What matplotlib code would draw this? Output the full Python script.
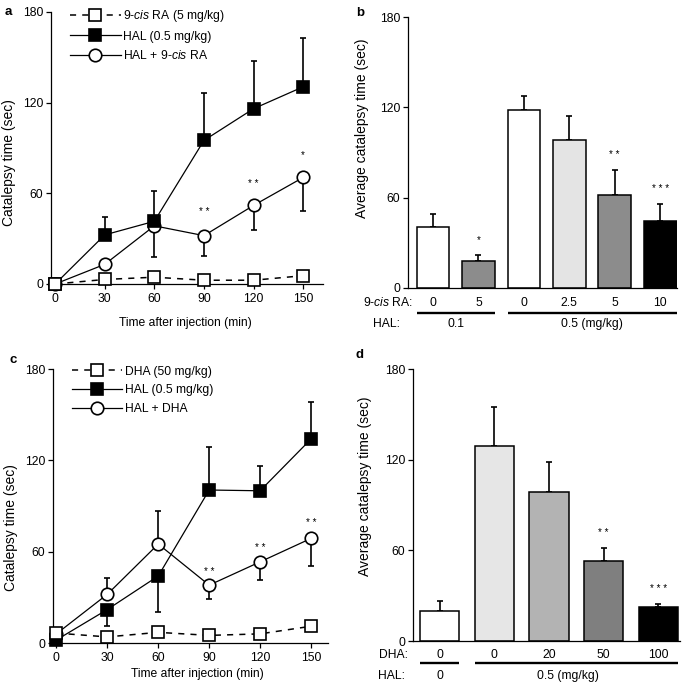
import matplotlib.pyplot as plt
import matplotlib.transforms as mtransforms
import numpy as np
from matplotlib.lines import Line2D

plt.rcParams['font.family'] = ['Liberation Sans', 'DejaVu Sans']
plt.rcParams['mathtext.fontset'] = 'custom'
plt.rcParams['mathtext.it'] = 'Liberation Sans:italic'
plt.rcParams['mathtext.rm'] = 'Liberation Sans'
plt.rcParams['font.size'] = 8.7

# ---- data ----
time_min = [0, 30, 60, 90, 120, 150]

# panel a
ra_only = [0, 3, 4.5, 2.5, 2.5, 5.5]
hal_a = [0, 32.5, 41.5, 95, 116, 130.5]
hal_a_hi = [0, 12, 20, 31.5, 31.5, 32]
hal_ra = [0, 13, 38.5, 32, 52, 70.5]
hal_ra_lo = [0, 0, 20.5, 13.5, 16.5, 22]
stars_a_x = [90, 120, 150]
stars_a_y = [47.5, 66.5, 85]
stars_a_txt = ['* *', '* *', '*']

# panel b
b_ra_doses = ['0', '5', '0', '2.5', '5', '10']
b_means = [40.5, 18, 118, 98, 62, 44.5]
b_err = [8.5, 3.7, 9.5, 16, 16.3, 11]
b_colors = ['white', '#8c8c8c', 'white', '#e4e4e4', '#8c8c8c', 'black']
b_stars = ['', '*', '', '', '* *', '* * *']
b_groups = [(0, 1, 0.5, '0.1'), (2, 5, 3.5, '0.5 (mg/kg)')]

# panel c
dha_only = [6.5, 4, 7, 5, 6, 11]
hal_c = [2, 22, 44, 100.5, 100, 134]
hal_c_lo = [0, 11, 23.5, 0, 0, 0]
hal_c_hi = [0, 0, 0, 28.5, 16.5, 24]
hal_dha = [6, 32, 65, 38, 53.3, 68.7]
hal_dha_lo = [0, 0, 0, 8.8, 11.6, 18]
hal_dha_hi = [0, 10.5, 21.7, 0, 0, 0]
stars_c_x = [90, 120, 150]
stars_c_y = [46.8, 62.6, 78.6]
stars_c_txt = ['* *', '* *', '* *']

# panel d
d_dha_doses = ['0', '0', '20', '50', '100']
d_means = [20, 129, 98.7, 52.8, 22.7]
d_err = [6.5, 25.6, 20, 8.6, 1.8]
d_colors = ['white', '#e6e6e6', '#b3b3b3', '#7f7f7f', 'black']
d_stars = ['', '', '', '* *', '* * *']
d_groups = [(0, 0, 0, '0'), (1, 4, 2.35, '0.5 (mg/kg)')]

W, H = 685, 683
fig = plt.figure(figsize=(W / 100, H / 100), dpi=100)


def px_axes(left, top, right, bottom):
    return fig.add_axes([left / W, 1 - bottom / H, (right - left) / W, (bottom - top) / H])


def style_axes(ax):
    for s in ['top', 'right']:
        ax.spines[s].set_visible(False)
    for s in ['left', 'bottom']:
        ax.spines[s].set_linewidth(0.9)
    ax.set_ylim(0, 180)
    ax.set_yticks([0, 60, 120, 180])
    ax.tick_params(axis='y', direction='out', length=3.5, width=0.9, pad=2)
    ax.tick_params(axis='x', direction='out', length=3.5, width=0.9, pad=3)


mk = dict(markersize=9, markeredgewidth=1.2, clip_on=False)


def line_panel(ax, open_vals, hal_vals, hal_lo, hal_hi, mix_vals, mix_lo, mix_hi,
               labels, legend_anchor, xlim):
    style_axes(ax)
    ax.errorbar(time_min, hal_vals, yerr=[hal_lo, hal_hi], fmt='none', ecolor='k',
                elinewidth=1.2, capsize=2.5, capthick=1.2, zorder=2, clip_on=False)
    ax.errorbar(time_min, mix_vals, yerr=[mix_lo, mix_hi], fmt='none', ecolor='k',
                elinewidth=1.2, capsize=2.5, capthick=1.2, zorder=2, clip_on=False)
    ax.plot(time_min, mix_vals, color='k', lw=0.9, marker='o', mfc='white', mec='k', zorder=3, **mk)
    ax.plot(time_min, hal_vals, color='k', lw=0.9, marker='s', mfc='black', mec='k', zorder=4, **mk)
    ax.plot(time_min, open_vals, color='k', lw=1.1, ls=(0, (4, 4)), marker='s', mfc='white',
            mec='k', zorder=5, **mk)
    ax.set_xlim(*xlim)
    ax.set_xticks(time_min)
    handles = [
        Line2D([0], [0], color='k', lw=1.1, ls=(0, (4, 4)), marker='s', mfc='white', mec='k',
               markersize=9, markeredgewidth=1.2),
        Line2D([0], [0], color='k', lw=0.9, marker='s', mfc='black', mec='k',
               markersize=9, markeredgewidth=1.2),
        Line2D([0], [0], color='k', lw=0.9, marker='o', mfc='white', mec='k',
               markersize=9, markeredgewidth=1.2),
    ]
    ax.legend(handles, labels, loc='upper left', bbox_to_anchor=legend_anchor, frameon=False,
              borderpad=0, borderaxespad=0, handlelength=4.2, handletextpad=0.2,
              labelspacing=0.55, fontsize=8.7)
    ax.set_ylabel('Catalepsy time (sec)', fontsize=10)
    ax.set_xlabel('Time after injection (min)')


def bar_panel(ax, means, err, colors, stars, doses, groups, row_lbl, xlim, star_off,
              rows_y, lbl_x):
    style_axes(ax)
    x = np.arange(len(means))
    w = 0.72
    ax.bar(x, means, width=w, color=colors, edgecolor='k', linewidth=1.1, zorder=2)
    ax.errorbar(x, means, yerr=[np.zeros(len(err)), err], fmt='none', ecolor='k',
                elinewidth=1.2, capsize=2.5, capthick=1.2, zorder=1)
    for xi, m, e, s in zip(x, means, err, stars):
        if s:
            ax.annotate(s, (xi, m + e), xytext=(0, star_off), textcoords='offset points',
                        ha='center', va='center', fontsize=7)
    ax.set_xlim(*xlim)
    ax.set_xticks([])
    tr = mtransforms.blended_transform_factory(ax.transData, ax.transAxes)
    for xi, d in zip(x, doses):
        ax.text(xi, rows_y[0], d, transform=tr, ha='center', va='center')
    for a, b, lx, lab in groups:
        ax.plot([a - w / 2, b + w / 2], [rows_y[1], rows_y[1]], color='k', lw=1.7,
                transform=tr, clip_on=False, solid_capstyle='butt')
        ax.text(lx, rows_y[2], lab, transform=tr, ha='center', va='center')
    ax.text(lbl_x[0], rows_y[0], row_lbl, transform=ax.transAxes, ha='right', va='center')
    ax.text(lbl_x[1], rows_y[2], 'HAL:', transform=ax.transAxes, ha='right', va='center')
    ax.set_ylabel('Average catalepsy time (sec)', fontsize=10)


# panel a
ax_a = px_axes(51, 12, 323, 284)
line_panel(ax_a, ra_only, hal_a, np.zeros(6), hal_a_hi, hal_ra, hal_ra_lo, np.zeros(6),
           ['9-$\\it{cis}$ RA (5 mg/kg)', 'HAL (0.5 mg/kg)', 'HAL + 9-$\\it{cis}$ RA'],
           (0.07, 1.015), (-2.5, 162))
for xs, ys, t in zip(stars_a_x, stars_a_y, stars_a_txt):
    ax_a.text(xs, ys, t, ha='center', va='center', fontsize=7)
ax_a.yaxis.set_label_coords(-0.13, 0.445)
ax_a.xaxis.set_label_coords(0.494, -0.12)

# panel c
ax_c = px_axes(53, 369, 328, 643)
line_panel(ax_c, dha_only, hal_c, hal_c_lo, hal_c_hi, hal_dha, hal_dha_lo, hal_dha_hi,
           ['DHA (50 mg/kg)', 'HAL (0.5 mg/kg)', 'HAL + DHA'],
           (0.068, 1.012), (-2, 160))
for xs, ys, t in zip(stars_c_x, stars_c_y, stars_c_txt):
    ax_c.text(xs, ys, t, ha='center', va='center', fontsize=7)
ax_c.yaxis.set_label_coords(-0.128, 0.423)
ax_c.xaxis.set_label_coords(0.524, -0.093)

# panel b
ax_b = px_axes(408, 17, 677, 288)
bar_panel(ax_b, b_means, b_err, b_colors, b_stars, b_ra_doses, b_groups, '9-$\\it{cis}$ RA:',
          (-0.55, 5.37), 11, (-0.054, -0.094, -0.133), (0.019, -0.03))
ax_b.yaxis.set_label_coords(-0.145, 0.589)

# panel d
ax_d = px_axes(413, 369, 680, 641)
bar_panel(ax_d, d_means, d_err, d_colors, d_stars, d_dha_doses, d_groups, 'DHA:',
          (-0.49, 4.4), 11, (-0.052, -0.082, -0.128), (-0.019, -0.03))
ax_d.yaxis.set_label_coords(-0.155, 0.57)

# panel letters
for lab, (px, py) in zip('abcd', [(8, 12), (360, 13), (13, 360), (360, 355)]):
    fig.text(px / W, 1 - py / H, lab, fontsize=9.5, fontweight='bold', ha='center', va='center')

fig.savefig('out.png', dpi=100)
